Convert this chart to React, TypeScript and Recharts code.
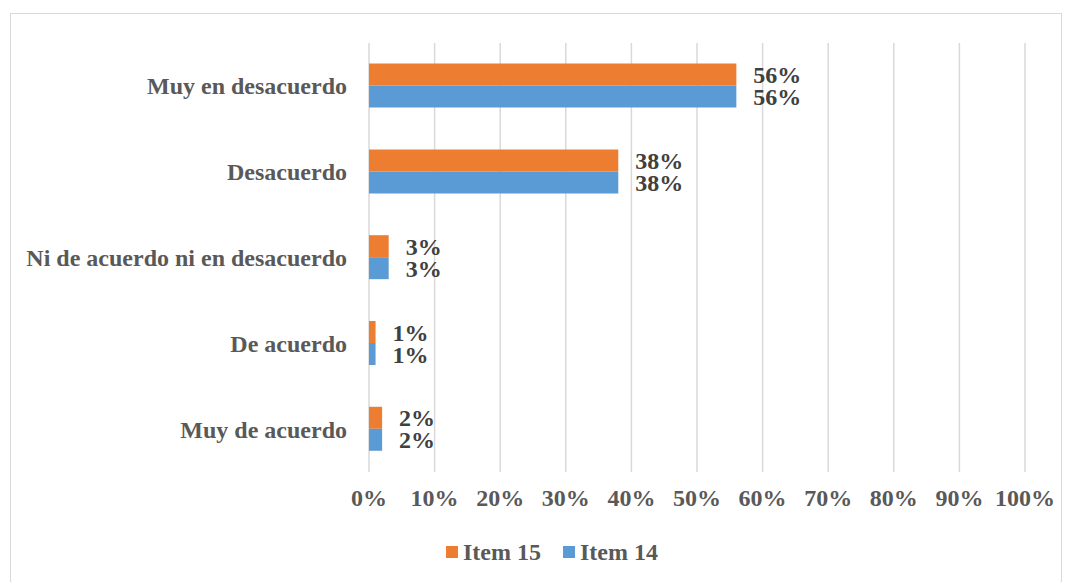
import React from "react";
import { BarChart, Bar, XAxis, YAxis, CartesianGrid, LabelList } from "recharts";

const categories = [
  "Muy en desacuerdo",
  "Desacuerdo",
  "Ni de acuerdo ni en desacuerdo",
  "De acuerdo",
  "Muy de acuerdo",
];
const item15 = [56, 38, 3, 1, 2];
const item14 = [56, 38, 3, 1, 2];
const xTicks = [0, 10, 20, 30, 40, 50, 60, 70, 80, 90, 100];
const seriesNames = ["Item 15", "Item 14"];
const colors = ["#ED7D31", "#5B9BD5"];

const data = categories.map((c, i) => ({ cat: c, item15: item15[i], item14: item14[i] }));

const FONT = "Liberation Serif";

const LegendBox = () => (
  <div style={{ position: "absolute", left: 0, top: 538, width: 1104, display: "flex", justifyContent: "center", alignItems: "center", fontFamily: FONT, fontWeight: 700, fontSize: 24, color: "#595959", lineHeight: "28px" }}>
    {seriesNames.map((n, i) => (
      <div key={n} style={{ display: "flex", alignItems: "center", marginRight: i === 0 ? 22 : 0 }}>
        <div style={{ width: 12, height: 12, background: colors[i], marginRight: 5 }} />
        <span>{n}</span>
      </div>
    ))}
  </div>
);

const fmt = (v: number) => `${v}%`;

export default function App() {
  return (
    <div style={{ position: "absolute", left: 0, top: 0, width: 1073, height: 582, background: "#fff", overflow: "hidden" }}>
      <div style={{ position: "absolute", left: 10, top: 13, width: 1052, height: 600, border: "1px solid #d9d9d9", boxSizing: "border-box" }} />
      <div style={{ position: "absolute", left: 0, top: 0 }}>
        <BarChart
          width={1073}
          height={582}
          data={data}
          layout="vertical"
          margin={{ top: 43, right: 48, bottom: 80, left: 0 }}
          barCategoryGap="24%"
          barGap={0}
        >
          <CartesianGrid horizontal={false} stroke="#d9d9d9" strokeWidth={1.5} />
          <XAxis
            type="number"
            domain={[0, 100]}
            ticks={xTicks}
            tickFormatter={fmt}
            height={30}
            axisLine={false}
            tickLine={false}
            tickSize={0}
            tickMargin={17}
            interval={0}
            tick={{ fill: "#595959", fontFamily: FONT, fontWeight: 700, fontSize: 24 }}
          />
          <YAxis
            type="category"
            dataKey="cat"
            width={369}
            axisLine={false}
            tickLine={false}
            tickSize={0}
            tickMargin={22}
            interval={0}
            tick={{ fill: "#595959", fontFamily: FONT, fontWeight: 700, fontSize: 24 }}
          />
          <Bar dataKey="item15" name="Item 15" fill={colors[0]} isAnimationActive={false}>
            <LabelList dataKey="item15" position="right" offset={17} formatter={fmt} fill="#404040" fontFamily={FONT} fontWeight={700} fontSize={24} />
          </Bar>
          <Bar dataKey="item14" name="Item 14" fill={colors[1]} isAnimationActive={false}>
            <LabelList dataKey="item14" position="right" offset={17} formatter={fmt} fill="#404040" fontFamily={FONT} fontWeight={700} fontSize={24} />
          </Bar>
        </BarChart>
      </div>
      <LegendBox />
    </div>
  );
}
